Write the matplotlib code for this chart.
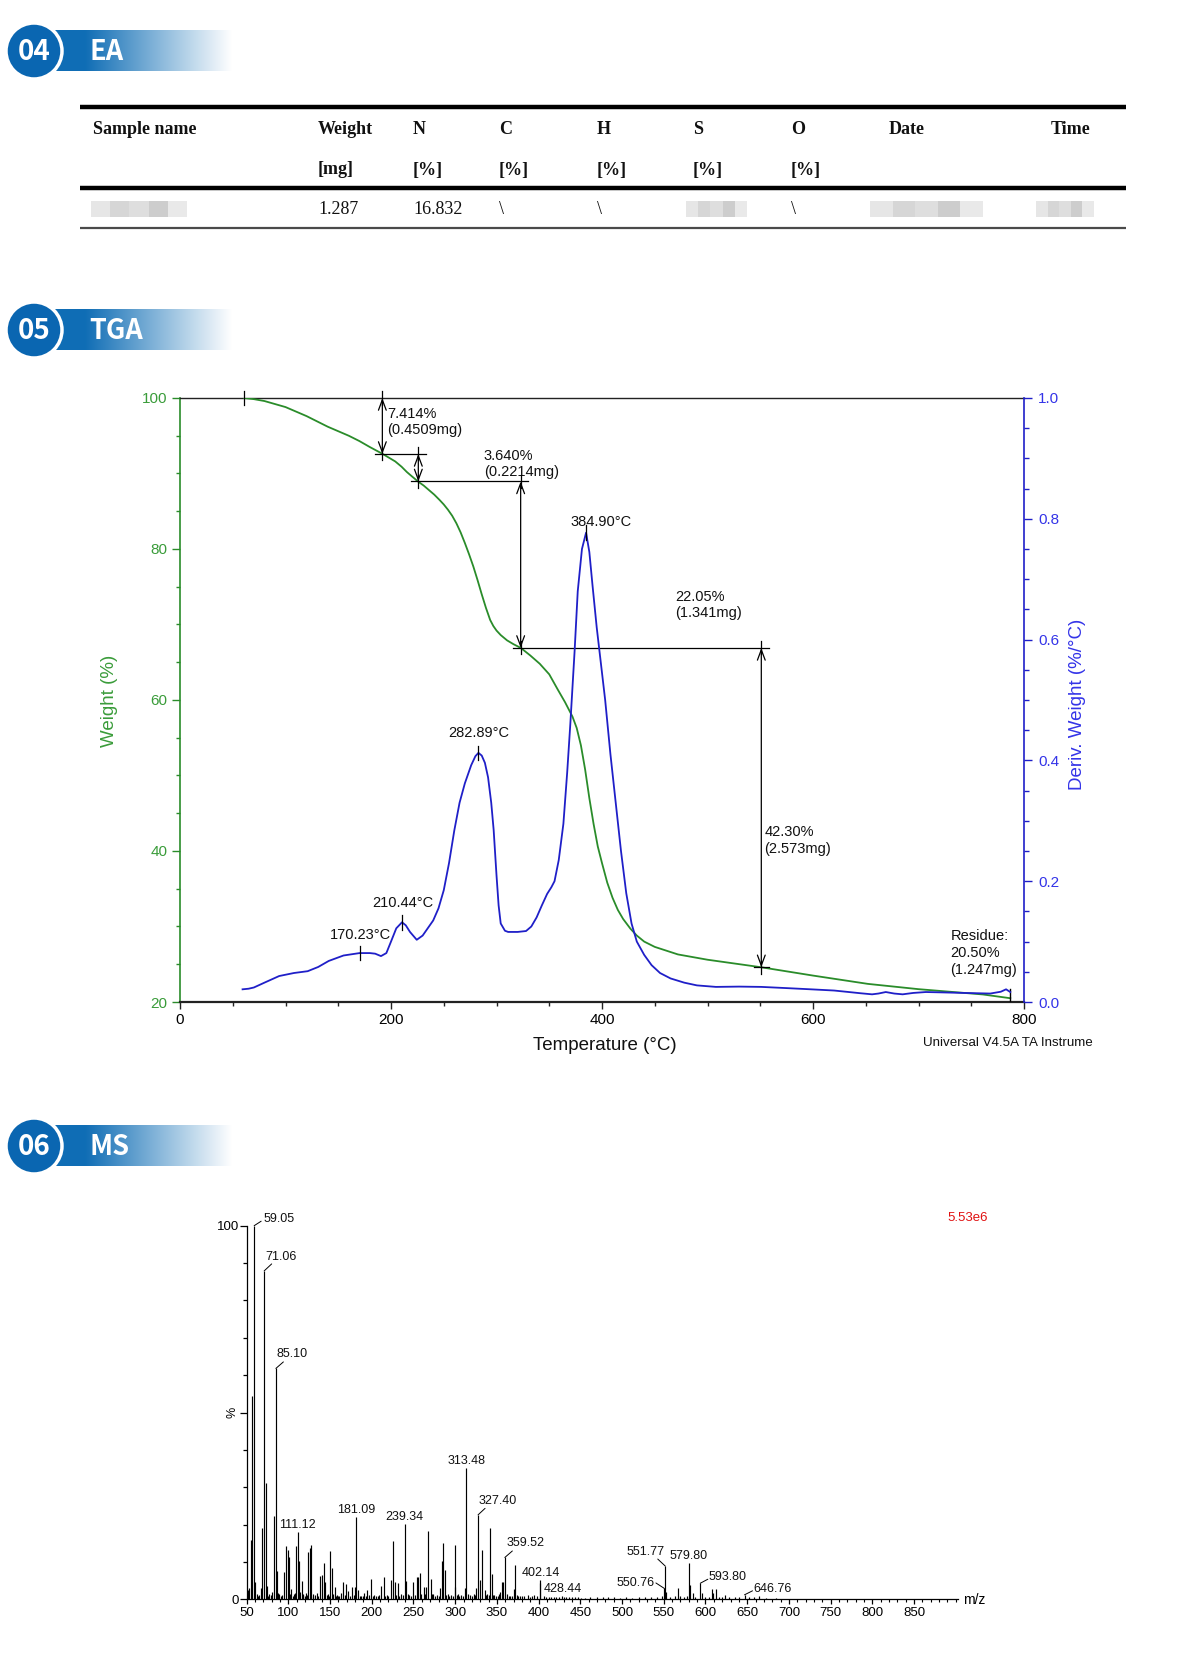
import numpy as np
import matplotlib
matplotlib.use("Agg")
import matplotlib.pyplot as plt
from matplotlib.patches import Circle, Rectangle
from matplotlib.ticker import MultipleLocator, FixedLocator, FormatStrFormatter

# ---------------- EA table ----------------
ea_header = ["Sample name", "Weight", "N", "C", "H", "S", "O", "Date", "Time"]
ea_units = ["", "[mg]", "[%]", "[%]", "[%]", "[%]", "[%]", "", ""]
ea_values = [None, "1.287", "16.832", "\\", "\\", None, "\\", None, None]  # None = blurred cell

# ---------------- TGA ----------------
tga_temp = [60.7, 70, 80, 90, 100, 110, 120, 130, 140, 150, 160, 170, 180, 192, 198, 204, 210,
            215, 220, 226, 231, 236, 241, 246, 250, 254, 258, 262, 266, 270, 274, 278, 282, 286,
            290, 294, 297, 300, 304, 310, 316, 323, 332, 341, 350, 358, 365, 372, 376, 380, 384,
            388, 392, 396, 400, 405, 410, 415, 420, 427, 433, 440, 450, 472, 500, 551, 600, 652,
            700, 761, 787]
tga_weight = [100.0, 99.85, 99.6, 99.2, 98.8, 98.2, 97.6, 96.9, 96.2, 95.6, 95.0, 94.3, 93.5, 92.6,
              92.1, 91.6, 90.9, 90.2, 89.6, 88.9, 88.4, 87.8, 87.2, 86.5, 85.9, 85.2, 84.4, 83.4,
              82.2, 80.8, 79.3, 77.7, 75.9, 74.0, 72.2, 70.6, 69.8, 69.2, 68.6, 67.9, 67.4, 66.9,
              65.9, 64.8, 63.4, 61.4, 59.7, 57.8, 56.3, 54.0, 50.8, 47.0, 43.6, 40.6, 38.4, 35.8,
              33.8, 32.2, 31.0, 29.7, 28.8, 28.0, 27.3, 26.3, 25.6, 24.6, 23.5, 22.4, 21.7, 21.0,
              20.5]

dtg_temp = [59.3, 65, 70, 80, 94, 108, 121, 131, 141, 155, 170.23, 180, 185, 190.5, 195.6, 200, 205,
            210.44, 214, 218, 224.4, 230, 236, 240, 245, 250, 255, 260, 265, 270, 276, 280, 282.89,
            286, 289, 292, 295, 297.3, 300, 302, 304, 308, 311, 320, 328, 333, 338, 343, 348, 352,
            355, 359, 363.4, 367, 370, 374, 377, 381, 384.9, 388, 391, 395, 399, 403, 408, 413, 418,
            423, 428, 433, 440, 447, 455, 465, 478, 490, 508, 530, 551, 575, 598, 620, 634, 645, 656,
            662, 669, 677, 685, 695, 707, 720, 743, 768, 778, 783, 787]
dtg_deriv = [0.021, 0.022, 0.024, 0.032, 0.043, 0.048, 0.051, 0.058, 0.068, 0.077, 0.081, 0.081, 0.080,
             0.076, 0.081, 0.100, 0.122, 0.132, 0.127, 0.116, 0.103, 0.110, 0.125, 0.135, 0.155, 0.185,
             0.230, 0.284, 0.330, 0.362, 0.392, 0.407, 0.4125, 0.408, 0.396, 0.372, 0.330, 0.285, 0.210,
             0.160, 0.130, 0.118, 0.116, 0.116, 0.1175, 0.125, 0.140, 0.160, 0.179, 0.190, 0.200, 0.235,
             0.295, 0.380, 0.461, 0.580, 0.680, 0.750, 0.777, 0.745, 0.690, 0.620, 0.560, 0.500, 0.410,
             0.330, 0.250, 0.180, 0.130, 0.100, 0.078, 0.061, 0.048, 0.039, 0.032, 0.0275, 0.025, 0.0255,
             0.025, 0.023, 0.021, 0.019, 0.0165, 0.0145, 0.0127, 0.014, 0.0165, 0.014, 0.0127, 0.015,
             0.0165, 0.016, 0.015, 0.014, 0.017, 0.021, 0.0165]

step_start = 60.7
step_temp = [191.8, 225.9, 322.9, 551.0]
step_level = [100.0, 92.586, 88.946, 66.896, 24.596]
step_pct = ["7.414%", "3.640%", "22.05%", "42.30%"]
step_mg = ["(0.4509mg)", "(0.2214mg)", "(1.341mg)", "(2.573mg)"]
step_text_pos = [(196.2, 97.9), (288.0, 92.35), (469.2, 73.7), (554.0, 42.5)]
residue_temp = 787
residue_lines = ["Residue:", "20.50%", "(1.247mg)"]
residue_text_pos = (730.2, 28.7)

peak_temp = [170.23, 210.44, 282.89, 384.90]
peak_deriv = [0.081, 0.132, 0.4125, 0.777]
peak_labels = ["170.23°C", "210.44°C", "282.89°C", "384.90°C"]
peak_label_pos = [(170.7, 0.111), (210.9, 0.164), (283.2, 0.445), (399.4, 0.795)]

# ---------------- MS ----------------
ms_mz = [50.5, 52.0, 53.2, 54.9, 57.0, 59.05, 60.5, 62.0, 63.5, 65.0, 67.0, 68.9, 71.06, 73.1, 74.5,
         76.0, 77.0, 79.0, 81.0, 83.1, 85.10, 86.9, 88.0, 89.0, 91.0, 93.0, 95.1, 97.4, 99.1, 100.4,
         102.0, 103.8, 105.5, 107.0, 108.3, 109.6, 111.12, 113.1, 114.5, 115.9, 117.0, 118.0, 119.5,
         121.0, 122.5, 124.0, 126.0, 127.5, 129.0, 130.0, 131.5, 133.9, 135.5, 137.9, 139.9, 142.4,
         144.4, 145.8, 147.0, 148.5, 150.0, 152.8, 154.0, 155.9, 157.0, 158.0, 159.5, 161.0, 163.5,
         166.1, 167.5, 169.2, 172.1, 174.0, 176.8, 178.5, 179.9, 181.09, 183.7, 185.5, 187.0, 189.0,
         191.3, 193.0, 194.4, 196.5, 199.1, 201.0, 203.0, 205.0, 207.0, 209.0, 211.0, 214.2, 216.0,
         218.0, 220.0, 222.6, 225.0, 227.4, 229.0, 231.3, 233.0, 235.0, 237.0, 239.34, 241.3, 243.0,
         245.0, 247.0, 249.1, 251.5, 253.9, 255.9, 257.5, 259.5, 262.3, 263.8, 265.5, 267.9, 270.6,
         272.0, 274.0, 276.0, 278.0, 280.0, 281.5, 283.6, 285.2, 287.3, 289.0, 291.0, 293.0, 295.0,
         297.0, 299.4, 300.3, 302.0, 303.5, 305.0, 307.0, 309.0, 311.5, 313.48, 315.5, 318.0, 320.0,
         322.0, 324.0, 325.5, 327.40, 329.7, 332.4, 335.2, 337.0, 338.5, 340.5, 341.9, 343.6, 345.5,
         347.0, 349.0, 351.0, 352.5, 354.0, 355.9, 357.8, 359.52, 362.0, 364.0, 366.0, 368.0, 370.5,
         371.7, 373.5, 375.0, 377.5, 380.0, 383.0, 386.8, 390.0, 392.5, 394.7, 398.0, 401.5, 402.14,
         406.0, 409.0, 412.0, 415.0, 418.0, 421.0, 424.6, 428.44, 431.0, 433.0, 436.5, 440.0, 443.5,
         447.0, 451.0, 455.0, 462.0, 470.0, 477.0, 483.0, 490.0, 497.0, 505.0, 512.0, 520.0, 527.0,
         535.0, 542.0, 548.0, 550.76, 551.77, 553.0, 558.0, 563.0, 567.6, 569.0, 574.0, 577.5, 579.80,
         581.5, 584.5, 588.0, 593.80, 595.8, 600.0, 604.0, 607.5, 609.5, 612.0, 616.0, 620.0, 623.0,
         628.0, 635.7, 640.0, 646.76, 652.0, 658.0, 664.0, 672.0, 684.0]
ms_int = [1.2, 2.5, 3.0, 15.9, 54.4, 100.0, 4.7, 1.5, 1.0, 1.2, 3.0, 19.2, 87.9, 31.0, 3.5,
          1.0, 1.5, 1.2, 2.0, 22.3, 61.8, 7.6, 1.8, 1.5, 1.0, 1.2, 7.4, 14.4, 13.2, 11.4,
          1.5, 2.8, 1.0, 1.5, 1.8, 14.4, 17.9, 10.3, 2.0, 4.9, 1.2, 1.5, 1.0,
          1.8, 1.2, 12.7, 13.8, 14.5, 1.0, 1.5, 1.2, 1.8, 1.0, 6.3, 6.5, 9.7,
          4.5, 1.2, 1.5, 1.0, 12.9, 8.4, 1.5, 3.2, 1.0, 1.2, 0.8, 1.0, 1.8,
          4.6, 1.2, 4.0, 2.1, 1.0, 3.4, 1.2, 3.4, 21.9, 2.5, 1.0, 1.0, 0.8,
          1.6, 1.0, 2.5, 1.2, 5.4, 1.0, 1.2, 0.8, 1.0, 1.2, 3.6, 5.9, 1.0,
          1.2, 0.8, 5.2, 15.6, 4.7, 1.2, 4.3, 1.0, 1.5, 1.2, 20.2, 4.9, 1.5,
          1.2, 1.0, 4.5, 1.2, 6.1, 6.1, 7.0, 1.5, 3.2, 1.5, 3.2, 18.3, 5.4,
          1.5, 1.5, 1.0, 1.2, 1.0, 3.0, 10.3, 15.0, 7.9, 1.2, 1.5, 1.0, 1.2,
          1.0, 3.2, 14.5, 1.2, 1.5, 1.0, 1.2, 1.0, 3.0, 35.1, 1.5, 1.2, 1.0,
          1.5, 1.2, 3.0, 22.6, 5.2, 13.2, 2.5, 1.2, 1.5, 1.2, 19.2, 6.8, 1.2,
          1.2, 1.0, 1.0, 1.5, 2.0, 4.7, 4.7, 11.2, 1.5, 1.0, 1.0, 0.8, 2.7,
          9.2, 1.2, 1.0, 0.8, 0.8, 1.0, 1.2, 0.7, 0.9, 1.2, 0.8, 4.3, 5.2,
          0.8, 0.6, 0.6, 0.7, 0.7, 0.5, 0.7, 0.8, 0.6, 0.6, 0.5, 0.5, 0.6,
          0.6, 0.4, 0.4, 0.5, 0.6, 0.5, 0.6, 0.5, 0.4, 0.5, 0.4, 0.6, 0.5,
          0.5, 0.6, 0.8, 2.9, 8.9, 2.0, 0.6, 0.8, 2.9, 0.8, 0.6, 1.0, 9.6,
          3.8, 1.6, 0.6, 4.3, 1.6, 0.6, 0.6, 2.8, 1.6, 2.8, 0.6, 0.5, 1.2,
          0.5, 0.5, 0.6, 1.2, 0.5, 0.5, 0.9, 0.3, 0.3]
ms_label_mz = [59.05, 71.06, 85.10, 111.12, 181.09, 239.34, 313.48, 327.40, 359.52, 402.14,
               428.44, 551.77, 550.76, 579.80, 593.80, 646.76]
base_peak = "5.53e6"

# ---------------- style ----------------
SANS = "Liberation Sans"
SERIF = "Liberation Serif"
CJK = ["Noto Sans CJK SC", "DejaVu Sans"]
GREEN = "#2a8c2a"
GREEN_TXT = "#3a9c3a"
BLUE = "#1f1fc8"
BLUE_TXT = "#3434e8"
BANNER_BLUE = np.array([0.06, 0.43, 0.71])
CIRCLE_BLUE = "#0a66b1"

FW, FH = 1200, 1678


def rect(l, t, r, b):
    return [l / FW, 1 - b / FH, (r - l) / FW, (b - t) / FH]


fig = plt.figure(figsize=(FW / 100, FH / 100), dpi=100)
bg = fig.add_axes([0, 0, 1, 1])
bg.axis("off")


def banner(yc, num, title):
    xs = np.linspace(40, 235, 400)
    f = np.clip((xs - 85) / 147, 0, 1)
    rgb = np.outer(1 - f, BANNER_BLUE) + np.outer(f, [1, 1, 1])
    bg.imshow(rgb[None, :, :], extent=[40, 235, yc + 20.5, yc - 20.5], aspect="auto",
              interpolation="bilinear", zorder=1)
    bg.add_patch(Circle((34, yc), 28, fc=CIRCLE_BLUE, ec="white", lw=2.5, zorder=2))
    bg.text(34, yc + 1, num, color="white", fontsize=20, fontweight="bold", family=CJK,
            ha="center", va="center", zorder=3)
    bg.text(89, yc + 1, title, color="white", fontsize=19.5, fontweight="bold", family=CJK,
            ha="left", va="center", zorder=3)


banner(51, "04", "EA")
banner(330, "05", "TGA")
banner(1146, "06", "MS")

# EA table
col_x = [93, 318, 413, 499, 597, 693, 791, 889, 1051]
blur_span = {0: (91, 187), 5: (686, 747), 7: (870, 983), 8: (1036, 1094)}
bg.plot([80, 1126], [107, 107], color="black", lw=3.2, solid_capstyle="butt")
bg.plot([80, 1126], [188, 188], color="black", lw=3.2, solid_capstyle="butt")
bg.plot([80, 1126], [228, 228], color="#4a4a4a", lw=1.6, solid_capstyle="butt")
for i, x in enumerate(col_x):
    bg.text(x, 130, ea_header[i], family=SERIF, fontweight="bold", fontsize=13, va="center", color="#111")
    if ea_units[i]:
        bg.text(x, 170, ea_units[i], family=SERIF, fontweight="bold", fontsize=13, va="center", color="#111")
    if ea_values[i] is not None:
        bg.text(x, 210, ea_values[i], family=SERIF, fontsize=13, va="center", color="#111")
    else:
        x0, x1 = blur_span[i]
        n = 5
        shades = ["#e6e6e6", "#d6d6d6", "#dedede", "#cdcdcd", "#e9e9e9"]
        w = (x1 - x0) / n
        for k in range(n):
            bg.add_patch(Rectangle((x0 + k * w, 201), w, 16, fc=shades[k], ec="none", zorder=1))

# ---------------- TGA plot ----------------
ax = fig.add_axes(rect(180, 398, 1024, 1002))
ax.set_facecolor("none")
ax.plot(tga_temp, tga_weight, color=GREEN, lw=1.3, zorder=3)
ax.set_xlim(0, 800)
ax.set_ylim(20, 100)
ax.xaxis.set_major_locator(MultipleLocator(200))
ax.xaxis.set_minor_locator(MultipleLocator(50))
ax.yaxis.set_major_locator(MultipleLocator(20))
ax.yaxis.set_minor_locator(MultipleLocator(5))
ax.spines["right"].set_visible(False)
ax.spines["left"].set_color(GREEN)
ax.spines["left"].set_linewidth(1.2)
ax.spines["top"].set_color("#222")
ax.spines["top"].set_linewidth(1.0)
ax.spines["bottom"].set_color("#222")
ax.spines["bottom"].set_linewidth(1.6)
ax.tick_params(axis="y", which="major", length=6, width=1, color=GREEN, labelcolor=GREEN_TXT,
               labelsize=11, pad=3)
ax.tick_params(axis="y", which="minor", length=2.8, width=1, color=GREEN)
ax.tick_params(axis="x", which="major", length=5, width=1, color="#222", labelsize=11, pad=3)
ax.tick_params(axis="x", which="minor", length=2.6, width=1, color="#222")
for lab in ax.get_xticklabels() + ax.get_yticklabels():
    lab.set_family(SANS)

ax2 = ax.twinx()
ax2.plot(dtg_temp, dtg_deriv, color=BLUE, lw=1.3, zorder=3)
ax2.set_ylim(0, 1)
ax2.yaxis.set_major_locator(MultipleLocator(0.2))
ax2.yaxis.set_minor_locator(MultipleLocator(0.05))
ax2.yaxis.set_major_formatter(FormatStrFormatter("%.1f"))
for s in ["left", "top", "bottom"]:
    ax2.spines[s].set_visible(False)
ax2.spines["right"].set_color(BLUE)
ax2.spines["right"].set_linewidth(1.2)
ax2.tick_params(axis="y", which="major", length=6, width=1, color=BLUE, labelcolor=BLUE_TXT,
                labelsize=11, pad=4)
ax2.tick_params(axis="y", which="minor", length=3.5, width=1, color=BLUE)
for lab in ax2.get_yticklabels():
    lab.set_family(SANS)

# step annotations
tick_h = 0.86
ann_kw = dict(color="black", lw=0.9, zorder=4, clip_on=False)
arrow_style = "<->,head_length=0.75,head_width=0.28"
for t in [step_start, step_temp[0]]:
    ax.plot([t, t], [100 - tick_h * 1.1, 100 + tick_h * 1.1], **ann_kw)
for i in range(1, len(step_level)):
    lvl = step_level[i]
    t_left = step_temp[i - 1]
    t_right = step_temp[i] if i < len(step_temp) else step_temp[-1]
    ax.plot([t_left - 7, t_right + 7], [lvl, lvl], **ann_kw)
    ax.plot([t_left, t_left], [lvl - tick_h, lvl + tick_h], **ann_kw)
    if i < len(step_temp):
        ax.plot([t_right, t_right], [lvl - tick_h, lvl + tick_h], **ann_kw)
for i, t in enumerate(step_temp):
    ax.annotate("", xy=(t, step_level[i + 1]), xytext=(t, step_level[i]),
                arrowprops=dict(arrowstyle=arrow_style, color="black", lw=0.9,
                                shrinkA=0, shrinkB=0), zorder=4)


def multiline(axis, x, y, lines, spacing=16.5, **kw):
    for k, line in enumerate(lines):
        axis.annotate(line, xy=(x, y), xytext=(0, -k * spacing), textcoords="offset pixels",
                      ha="left", va="center", **kw)


for (x, y), p, m in zip(step_text_pos, step_pct, step_mg):
    multiline(ax, x, y, [p, m], fontsize=10.5, family=SANS, color="#111")
multiline(ax, residue_text_pos[0], residue_text_pos[1], residue_lines, spacing=17,
          fontsize=10.5, family=SANS, color="#111")
ax.plot([residue_temp, residue_temp], [20, 21.7], color="black", lw=1.0, zorder=4)

for t, d, lab, (lx, ly) in zip(peak_temp, peak_deriv, peak_labels, peak_label_pos):
    ax2.plot([t, t], [d - 0.012, d + 0.012], color="black", lw=0.9, zorder=4)
    ax2.text(lx, ly, lab, ha="center", va="center", fontsize=10.5, family=SANS, color="#111")

fig.text(109 / FW, 1 - 701 / FH, "Weight (%)", rotation=90, color=GREEN_TXT, fontsize=13.5,
         family=SANS, ha="center", va="center")
fig.text(1078 / FW, 1 - 704 / FH, "Deriv. Weight (%/°C)", rotation=90, color=BLUE_TXT,
         fontsize=13.5, family=SANS, ha="center", va="center")
fig.text(605 / FW, 1 - 1046 / FH, "Temperature (°C)", color="#111", fontsize=13.5, family=SANS,
         ha="center", va="center")
fig.text(923 / FW, 1 - 1043 / FH, "Universal V4.5A TA Instrume", color="#111", fontsize=9.6,
         family=SANS, ha="left", va="center")

# ---------------- MS plot ----------------
ms = fig.add_axes(rect(246.6, 1225.7, 958.3, 1599.3))
ms.set_facecolor("none")
ms.vlines(ms_mz, 0, ms_int, color="black", lw=0.85)
ms.set_xlim(50, 903)
ms.set_ylim(0, 100)
ms.spines["top"].set_visible(False)
ms.spines["right"].set_visible(False)
ms.spines["left"].set_linewidth(0.9)
ms.spines["bottom"].set_linewidth(0.9)
ms.xaxis.set_major_locator(FixedLocator(list(range(50, 851, 50))))
ms.xaxis.set_minor_locator(FixedLocator(list(range(50, 901, 10))))
ms.yaxis.set_major_locator(FixedLocator([0, 50, 100]))
ms.yaxis.set_minor_locator(FixedLocator([10, 20, 30, 40, 60, 70, 80, 90]))
ms.set_yticklabels(["0", "", "100"])
ms.tick_params(axis="x", which="major", length=3.6, width=0.9, labelsize=9.5, pad=2)
ms.tick_params(axis="x", which="minor", length=2.2, width=0.8)
ms.tick_params(axis="y", which="major", length=5, width=0.9, labelsize=9.5, pad=0.5)
ms.tick_params(axis="y", which="minor", length=2.8, width=0.9)
for lab in ms.get_xticklabels() + ms.get_yticklabels():
    lab.set_family(SANS)

# label layout: ha, text dx, text dy, leader end (pixels)
ms_label_style = {
    59.05: ("left", 9, 7, (7, 4.5)),
    71.06: ("left", 1, 14, (7.5, 7)),
    85.10: ("left", 0.5, 14, (7.5, 6.5)),
    111.12: ("center", 0, 7, None),
    181.09: ("center", 0, 7.5, None),
    239.34: ("center", 0, 7, None),
    313.48: ("center", 0, 7.5, None),
    327.40: ("left", 0.5, 14, (7, 6.5)),
    359.52: ("left", 2, 14, (7.5, 6.5)),
    402.14: ("center", 0, 7, None),
    428.44: ("center", 0, 7.5, None),
    551.77: ("right", -1, 14, (-7.5, 7)),
    550.76: ("right", -10, 5, (-8.5, 5.5)),
    579.80: ("center", 0, 7.5, None),
    593.80: ("left", 8, 6, (7.5, 4)),
    646.76: ("left", 8.5, 6, (8, 4)),
}
for mz in ms_label_mz:
    inten = ms_int[ms_mz.index(mz)]
    ha, dx, dy, lead = ms_label_style[mz]
    if lead is not None:
        ms.annotate("", xy=(mz, inten), xytext=lead, textcoords="offset pixels",
                    arrowprops=dict(arrowstyle="-", color="black", lw=0.7, shrinkA=0, shrinkB=0),
                    annotation_clip=False)
    ms.annotate("%.2f" % mz, xy=(mz, inten), xytext=(dx, dy), textcoords="offset pixels",
                ha=ha, va="center", fontsize=9, family=SANS, color="#111", annotation_clip=False)

bg.text(233, 1412, "%", rotation=90, fontsize=9, family=SANS, ha="center", va="center")
bg.text(963, 1600.5, "m/z", fontsize=10, family=SANS, ha="left", va="center")
bg.text(968, 1218, base_peak, fontsize=9.5, family=SANS, color="#e01010", ha="center", va="center")

bg.set_xlim(0, FW)
bg.set_ylim(FH, 0)

fig.savefig("out.png", dpi=100)
